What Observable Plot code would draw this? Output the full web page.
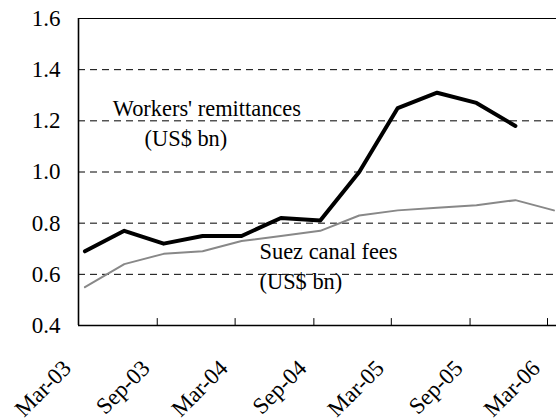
<!DOCTYPE html>
<html><head><meta charset="utf-8">
<script src="https://cdn.jsdelivr.net/npm/d3@7"></script>
<script src="https://cdn.jsdelivr.net/npm/@observablehq/plot@0.6"></script>
<style>
html,body{margin:0;padding:0;background:#fff;}
#chart svg{display:block;}
#chart svg, #chart svg text{font-family:"Liberation Serif","Times New Roman",serif !important;}
</style>
</head><body><div id="chart"></div>
<script>
// Quarterly observations (US$ bn)
const quarters = ["Mar-03","Jun-03","Sep-03","Dec-03","Mar-04","Jun-04","Sep-04","Dec-04","Mar-05","Jun-05","Sep-05","Dec-05","Mar-06"];
const remittances = [0.69,0.77,0.72,0.75,0.75,0.82,0.81,1.00,1.25,1.31,1.27,1.18];
const suezFees = [0.55,0.64,0.68,0.69,0.73,0.75,0.77,0.83,0.85,0.86,0.87,0.89,0.85];
const xTickLabels = ["Mar-03","Sep-03","Mar-04","Sep-04","Mar-05","Sep-05","Mar-06"];
const yTicks = [0.4,0.6,0.8,1.0,1.2,1.4,1.6];
const gridValues = [0.6,0.8,1.0,1.2,1.4];

const parse = d3.timeParse("%b-%y");
const mid = s => d3.timeDay.offset(parse(s), 15);
const remData = remittances.map((v,i)=>({date: mid(quarters[i]), value: v}));
const suezData = suezFees.map((v,i)=>({date: mid(quarters[i]), value: v}));
const xTicks = xTickLabels.map(s => ({date: parse(s), label: s}));

const font = "Liberation Serif";
const yMin = yTicks[0], yMax = yTicks[yTicks.length-1];

const chart = Plot.plot({
  width: 556, height: 420,
  marginLeft: 78, marginRight: 0, marginTop: 18, marginBottom: 95,
  style: "font-family: 'Liberation Serif', serif; font-size: 22px; background: #fff; color: #000;",
  x: {type: "time", domain: [parse("Mar-03"), d3.timeDay.offset(parse("Mar-06"), 21)]},
  y: {domain: [yMin, yMax]},
  marks: [
    Plot.ruleY(gridValues, {stroke: "#000", strokeWidth: 1, strokeDasharray: "7,5"}),
    Plot.ruleY([yMax], {stroke: "#000", strokeWidth: 1}),
    Plot.ruleY([yMin], {stroke: "#000", strokeWidth: 1.6}),
    Plot.ruleX([parse("Mar-03")], {stroke: "#000", strokeWidth: 1.6}),
    Plot.ruleX(xTicks, {x: "date", y1: yMin, y2: yMin + 0.027, stroke: "#000", strokeWidth: 1}),
    Plot.line(suezData, {x: "date", y: "value", stroke: "#888888", strokeWidth: 2, strokeLinejoin: "round"}),
    Plot.line(remData, {x: "date", y: "value", stroke: "#000", strokeWidth: 4, strokeLinejoin: "round", strokeLinecap: "round"}),
    Plot.axisY({ticks: yTicks, tickFormat: d3.format(".1f"), tickSize: 0, tickPadding: 18, label: null, fontSize: 23, fontFamily: font}),
    Plot.axisX({ticks: [], tickSize: 0, label: null}),
    Plot.text(xTicks, {x: "date", frameAnchor: "bottom", text: "label", rotate: -45, textAnchor: "end", lineAnchor: "bottom", dx: -6, dy: 44, fontSize: 23, fontFamily: font, fill: "#000"}),
    Plot.text([{date: new Date(2003,11,26), value: 1.218, t: "Workers' remittances"}], {x: "date", y: "value", text: "t", textAnchor: "middle", lineAnchor: "bottom", fontSize: 22.4, fontFamily: font, fill: "#000"}),
    Plot.text([{date: new Date(2003,10,7), value: 1.100, t: "(US$ bn)"}], {x: "date", y: "value", text: "t", textAnchor: "middle", lineAnchor: "bottom", fontSize: 22.4, fontFamily: font, fill: "#000"}),
    Plot.text([{date: new Date(2004,3,27), value: 0.661, t: "Suez canal fees"}, {date: new Date(2004,3,27), value: 0.543, t: "(US$ bn)"}], {x: "date", y: "value", text: "t", textAnchor: "start", lineAnchor: "bottom", fontSize: 22.4, fontFamily: font, fill: "#000"})
  ]
});
document.getElementById("chart").appendChild(chart);
</script>
</body></html>
